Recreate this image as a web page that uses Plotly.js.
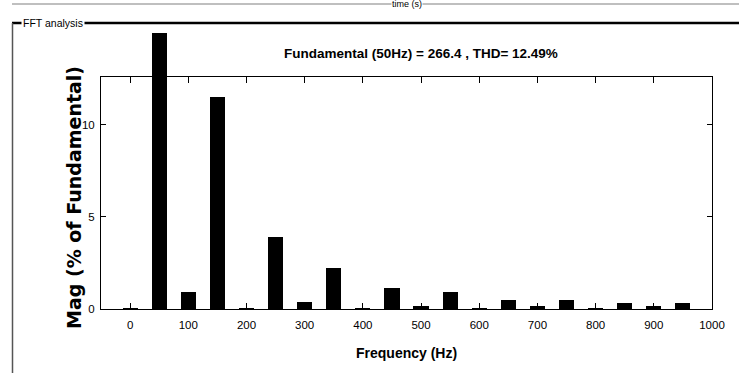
<!DOCTYPE html>
<html>
<head>
<meta charset="utf-8">
<script src="https://cdn.plot.ly/plotly-3.0.1.min.js"></script>
<style>html,body{margin:0;padding:0;background:#fff;}#chart{width:739px;height:373px;}</style>
</head>
<body>
<div id="chart"></div>
<script>
// Harmonic frequencies (Hz) and magnitudes (% of fundamental)
var freqs = [0, 50, 100, 150, 200, 250, 300, 350, 400, 450, 500, 550, 600, 650, 700, 750, 800, 850, 900, 950];
var mags  = [0.05, 100, 0.92, 11.5, 0.03, 3.9, 0.38, 2.2, 0.05, 1.12, 0.15, 0.9, 0.04, 0.5, 0.15, 0.5, 0.04, 0.3, 0.15, 0.3];
var xTicks = [0, 100, 200, 300, 400, 500, 600, 700, 800, 900, 1000];
var yTicks = [0, 5, 10];
var titleText = "Fundamental (50Hz) = 266.4 , THD= 12.49%";
var yTitle = "Mag (% of Fundamental)";
var xTitle = "Frequency (Hz)";
var panelTitle = "FFT analysis";
var topTitle = "time (s)";

var W = 739, H = 373;
var L = 101, R = 712, TOP = 33, BOX_TOP = 77, BOT = 309;
var yMax = 12.6;
var yMax2 = yMax * (BOT - TOP) / (BOT - BOX_TOP);
var pw = R - L, ph = BOT - TOP;
function px2x(p){ return (p - L) / pw; }
function px2y(p){ return (BOT - p) / ph; }

var narrow = "Liberation Sans Narrow, Arial Narrow, Liberation Sans, Arial, sans-serif";

var bars = {
  type: 'bar', x: freqs, y: mags, width: 26,
  marker: {color: '#000', line: {width: 0}},
  xaxis: 'x', yaxis: 'y2', hoverinfo: 'x+y'
};
// empty trace so the framed x/y subplot (box + ticks) is drawn
var frame = {type: 'scatter', mode: 'markers', x: [null], y: [null], xaxis: 'x', yaxis: 'y', hoverinfo: 'skip'};

var layout = {
  width: W, height: H,
  margin: {l: L, r: W - R, t: TOP, b: H - BOT, pad: 0},
  paper_bgcolor: '#fff', plot_bgcolor: 'rgba(0,0,0,0)',
  showlegend: false, bargap: 0,
  xaxis: {
    range: [-50, 1000], tickvals: xTicks, ticktext: xTicks.map(String),
    ticks: 'inside', ticklen: 6, tickcolor: '#000', tickwidth: 1,
    showline: true, linecolor: '#000', linewidth: 1, mirror: 'ticks',
    showgrid: false, zeroline: false, anchor: 'y',
    tickfont: {family: narrow, size: 11.5, color: '#000'},
    ticklabelstandoff: 5, fixedrange: true
  },
  yaxis: {
    domain: [0, (BOT - BOX_TOP) / ph], range: [0, yMax],
    tickvals: yTicks, ticktext: yTicks.map(String),
    ticks: 'inside', ticklen: 5, tickcolor: '#000', tickwidth: 1,
    showline: true, linecolor: '#000', linewidth: 1, mirror: 'ticks',
    showgrid: false, zeroline: false, anchor: 'x',
    tickfont: {family: narrow, size: 11.5, color: '#000'},
    ticklabelstandoff: 3, fixedrange: true
  },
  yaxis2: {
    domain: [0, 1], range: [0, yMax2], visible: false,
    showgrid: false, zeroline: false, anchor: 'x', fixedrange: true
  },
  shapes: [
    {type: 'line', xref: 'paper', yref: 'paper', x0: px2x(12), x1: px2x(739), y0: px2y(4), y1: px2y(4), line: {color: '#aaaaaa', width: 1.5}},
    {type: 'line', xref: 'paper', yref: 'paper', x0: px2x(12), x1: px2x(739), y0: px2y(23), y1: px2y(23), line: {color: '#000', width: 2.5}},
    {type: 'line', xref: 'paper', yref: 'paper', x0: px2x(12.5), x1: px2x(12.5), y0: px2y(23), y1: px2y(373), line: {color: '#555', width: 1.5}}
  ],
  annotations: [
    {text: topTitle, xref: 'paper', yref: 'paper', x: px2x(407), y: px2y(10), xanchor: 'center', yanchor: 'bottom', showarrow: false, bgcolor: '#fff', borderpad: 0, font: {family: narrow, size: 9, color: '#000'}},
    {text: panelTitle, xref: 'paper', yref: 'paper', x: px2x(21), y: px2y(23), xanchor: 'left', yanchor: 'middle', showarrow: false, bgcolor: '#fff', borderpad: 1, font: {family: narrow, size: 10.5, color: '#000'}},
    {text: '<b>' + titleText + '</b>', xref: 'paper', yref: 'paper', x: px2x(421), y: px2y(53), xanchor: 'center', yanchor: 'middle', showarrow: false, font: {family: narrow, size: 13.5, color: '#000'}},
    {text: '<b>' + xTitle + '</b>', xref: 'paper', yref: 'paper', x: px2x(406), y: px2y(353), xanchor: 'center', yanchor: 'middle', showarrow: false, font: {family: narrow, size: 14, color: '#000'}},
    {text: '<b>' + yTitle + '</b>', xref: 'paper', yref: 'paper', x: px2x(74), y: px2y(198), xanchor: 'center', yanchor: 'middle', textangle: -90, showarrow: false, font: {family: 'DejaVu Sans, Liberation Sans, sans-serif', size: 19, color: '#000'}}
  ]
};

Plotly.newPlot('chart', [bars, frame], layout, {displayModeBar: false, staticPlot: true});
</script>
</body>
</html>
